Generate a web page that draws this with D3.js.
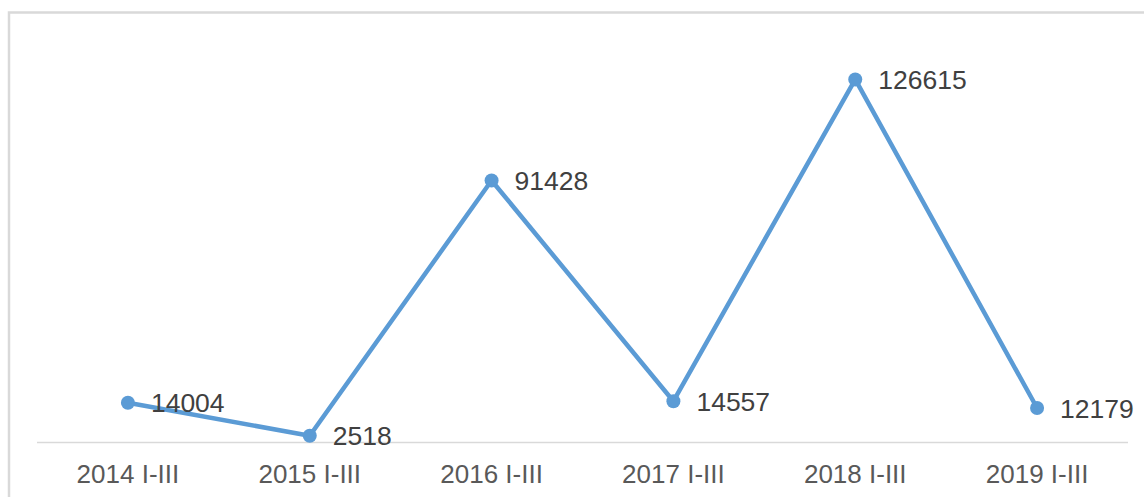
<!DOCTYPE html>
<html>
<head>
<meta charset="utf-8">
<script src="https://cdn.jsdelivr.net/npm/d3@7"></script>
<style>
  html, body { margin: 0; padding: 0; background: #fff; }
  svg { display: block; font-family: Arial, "Liberation Sans", sans-serif; }
</style>
</head>
<body>
<svg id="chart"></svg>
<script>
// Chart data
const categories = ["2014 I-III", "2015 I-III", "2016 I-III", "2017 I-III", "2018 I-III", "2019 I-III"];
const values = [14004, 2518, 91428, 14557, 126615, 12179];

const width = 1144
const height = 497

const svg = d3.select('#chart')
    .attr("width", width)
    .attr("height", height)

// outer frame (only top and left are visible in the picture)
svg.append('rect')
    .attr('x', 9)
    .attr('y', 12.5)
    .attr('width', width + 20)
    .attr('height', height + 20)
    .attr('fill', 'none')
    .attr('stroke', '#d9d9d9')
    .attr('stroke-width', 2.5)

// plot area
const left = 37, right = 1128
const x = d3.scaleBand()
    .domain(categories)
    .range([left, right])

const y = d3.scaleLinear()
    .domain([0, 140000])
    .range([443, 41])

const cx = d => x(d) + x.bandwidth() / 2

// horizontal category axis line
svg.append('line')
    .attr('x1', left).attr('x2', right)
    .attr('y1', 442.5).attr('y2', 442.5)
    .attr('stroke', '#d9d9d9')
    .attr('stroke-width', 1.5)

// category labels
svg.selectAll('text.cat')
    .data(categories)
    .enter().append('text')
    .attr('class', 'cat')
    .attr('x', cx)
    .attr('y', 483)
    .attr('text-anchor', 'middle')
    .attr('font-size', '26px')
    .attr('fill', '#595959')
    .text(d => d)

const points = categories.map((c, i) => ({ cat: c, value: values[i] }))

// the line
const line = d3.line()
    .x(d => cx(d.cat))
    .y(d => y(d.value))

svg.append('path')
    .datum(points)
    .attr('d', line)
    .attr('fill', 'none')
    .attr('stroke', '#5b9bd5')
    .attr('stroke-width', 4.5)
    .attr('stroke-linejoin', 'round')

// markers
svg.selectAll('circle')
    .data(points)
    .enter().append('circle')
    .attr('cx', d => cx(d.cat))
    .attr('cy', d => y(d.value))
    .attr('r', 7)
    .attr('fill', '#5b9bd5')

// value labels, right of each point
svg.selectAll('text.val')
    .data(points)
    .enter().append('text')
    .attr('class', 'val')
    .attr('x', d => cx(d.cat) + 23)
    .attr('y', d => y(d.value) + 9.5)
    .attr('font-size', '26.5px')
    .attr('fill', '#404040')
    .text(d => d.value)
</script>
</body>
</html>
